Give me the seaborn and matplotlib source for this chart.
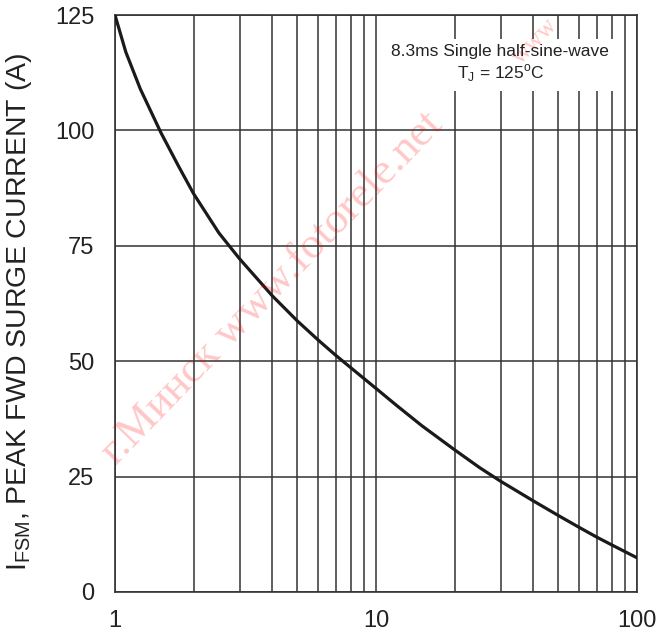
import matplotlib
matplotlib.use("Agg")
import matplotlib.pyplot as plt
import seaborn as sns
import pandas as pd

# surge current vs number of cycles
cycles = [1, 1.1, 1.25, 1.5, 1.75, 2, 2.5, 3, 4, 5, 6, 7, 8, 10, 12, 15, 20, 25, 30, 40, 50, 60, 70, 80, 100]
current = [125, 117, 109, 99.5, 92.3, 86.3, 77.8, 72.2, 64.2, 58.7, 54.6, 51.3, 48.6, 44.1, 40.4, 36.0,
           30.8, 26.9, 24.0, 19.75, 16.55, 14.0, 11.9, 10.2, 7.4]

y_ticks = [0, 25, 50, 75, 100, 125]
x_ticks = [1, 10, 100]
x_tick_labels = ["1", "10", "100"]

df = pd.DataFrame({"cycles": cycles, "current": current})

sns.set_style("white")
plt.rcParams["font.family"] = ["Liberation Sans", "DejaVu Sans"]
plt.rcParams["mathtext.fontset"] = "custom"
plt.rcParams["mathtext.rm"] = "Liberation Sans"

fig = plt.figure(figsize=(6.57, 6.39), dpi=100)
ax = fig.add_axes([0.175, 0.0736, 0.7946, 0.9029])

sns.lineplot(data=df, x="cycles", y="current", ax=ax, color="#1a1a1a", linewidth=2.3, zorder=3)

ax.set_xscale("log")
ax.set_xlim(1, 100)
ax.set_ylim(0, 125)
ax.set_xticks(x_ticks)
ax.set_xticklabels(x_tick_labels)
ax.set_yticks(y_ticks)

ax.grid(True, which="both", axis="x", color="#333333", linewidth=1.1)
ax.grid(True, which="major", axis="y", color="#333333", linewidth=1.1)
ax.tick_params(axis="both", which="both", length=0, labelsize=17, colors="#222222")
ax.tick_params(axis="y", pad=15)
ax.tick_params(axis="x", pad=13)

for s in ax.spines.values():
    s.set_color("#333333")
    s.set_linewidth(1.2)

ax.set_xlabel("")
ax.set_ylabel(r"I$_{\mathregular{FSM}}$, PEAK FWD SURGE CURRENT (A)", fontsize=20.5, color="#222222")
ax.yaxis.set_label_coords(-0.155, 0.485)

ax.text(0.738, 0.915, "8.3ms Single half-sine-wave\n" + r"T$_{\mathregular{J}}$ = 125$^{\mathregular{o}}$C",
        transform=ax.transAxes, ha="center", va="center", fontsize=12.5, color="#222222",
        linespacing=1.25, zorder=4,
        bbox=dict(facecolor="white", edgecolor="none", pad=5))

# watermark of the scanned source
fig.text(0.414, 0.549, "г.Минск www.fotorele.net", rotation=46, fontsize=32,
         family=["Liberation Serif", "DejaVu Serif"], color="red", alpha=0.22,
         ha="center", va="center", zorder=5)
fig.text(0.815, 0.935, "www", rotation=46, fontsize=18,
         family=["Liberation Serif", "DejaVu Serif"], color="red", alpha=0.22,
         ha="center", va="center", zorder=5)

fig.savefig("out.png", dpi=100)
